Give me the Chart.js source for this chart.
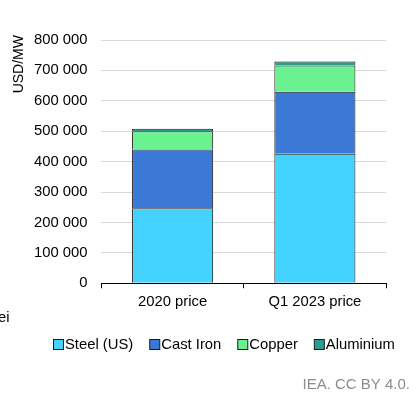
<!DOCTYPE html>
<html>
<head>
<meta charset="utf-8">
<script src="https://cdn.jsdelivr.net/npm/chart.js@4"></script>
<style>
  html, body { margin: 0; padding: 0; background: #fff; }
  #wrap { width: 417px; height: 398px; position: relative; }
</style>
</head>
<body>
<div id="wrap"><canvas id="costChart"></canvas></div>
<script>
const categories = ["2020 price", "Q1 2023 price"];
const steel = [247000, 426000];
const castIron = [193000, 204000];
const copper = [60000, 86000];
const aluminium = [8000, 13000];
const yTicks = [0, 100000, 200000, 300000, 400000, 500000, 600000, 700000, 800000];

(function() {
  window.addEventListener("load", draw);

  function fmt(v) {
    return String(v).replace(/\B(?=(\d{3})+(?!\d))/g, " ");
  }

  function draw() {
    Chart.defaults.font.family = "'Liberation Sans', Arial, sans-serif";
    Chart.defaults.font.size = 14.8;
    Chart.defaults.color = "#000";

    const extraText = {
      id: "extraText",
      afterDraw(chart) {
        const ctx = chart.ctx;
        ctx.save();
        ctx.font = "14.8px 'Liberation Sans', Arial, sans-serif";
        ctx.fillStyle = "#000";
        ctx.textBaseline = "middle";
        ctx.textAlign = "left";
        ctx.fillText("ei", -2, 318);

        // legend, laid out like the original (small box, tight gap)
        let x = 53;
        const y = 345;
        chart.data.datasets.forEach(d => {
          ctx.fillStyle = d.backgroundColor;
          ctx.fillRect(x + 0.5, y - 5.5, 10, 10);
          ctx.strokeStyle = "#1a1a1a";
          ctx.lineWidth = 1;
          ctx.strokeRect(x + 0.5, y - 5.5, 10, 10);
          ctx.fillStyle = "#000";
          ctx.fillText(d.label, x + 12, y);
          x += 12 + ctx.measureText(d.label).width + 16;
        });

        ctx.fillStyle = "#8c8c8c";
        ctx.font = "15px 'Liberation Sans', Arial, sans-serif";
        ctx.textAlign = "right";
        ctx.fillText("IEA. CC BY 4.0.", 410, 385);

        // y axis title, top-aligned like the original
        ctx.fillStyle = "#000";
        ctx.font = "14px 'Liberation Sans', Arial, sans-serif";
        ctx.translate(19, 35);
        ctx.rotate(-Math.PI / 2);
        ctx.textAlign = "right";
        ctx.fillText("USD/MW", 0, 0);
        ctx.restore();
      }
    };

    const ds = (label, data, color) => ({
      label: label,
      data: data,
      backgroundColor: color,
      borderColor: "#1a1a1a",
      borderWidth: 1,
      barPercentage: 0.57,
      categoryPercentage: 1.0
    });

    new Chart(document.getElementById("costChart"), {
      type: "bar",
      data: {
        labels: categories,
        datasets: [
          ds("Steel (US)", steel, "#44d3ff"),
          ds("Cast Iron", castIron, "#3c78d6"),
          ds("Copper", copper, "#69f28f"),
          ds("Aluminium", aluminium, "#2a9d8f")
        ]
      },
      options: {
        responsive: true,
        maintainAspectRatio: false,
        animation: false,
        layout: { padding: { left: 20, right: 31, top: 40, bottom: 82 } },
        plugins: {
          tooltip: { enabled: false },
          legend: { display: false }
        },
        scales: {
          x: {
            stacked: true,
            grid: {
              display: true,
              offset: true,
              drawOnChartArea: false,
              color: "#000",
              tickLength: 5
            },
            border: { color: "#000" },
            ticks: { padding: 5 }
          },
          y: {
            stacked: true,
            min: 0,
            max: 800000,
            afterBuildTicks(axis) {
              axis.ticks = yTicks.map(v => ({ value: v }));
            },
            grid: { color: "#d9d9d9", drawTicks: false },
            border: { display: false },
            ticks: { padding: 14, callback: v => fmt(v) }
          }
        }
      },
      plugins: [extraText]
    });
  }
})();
</script>
</body>
</html>
